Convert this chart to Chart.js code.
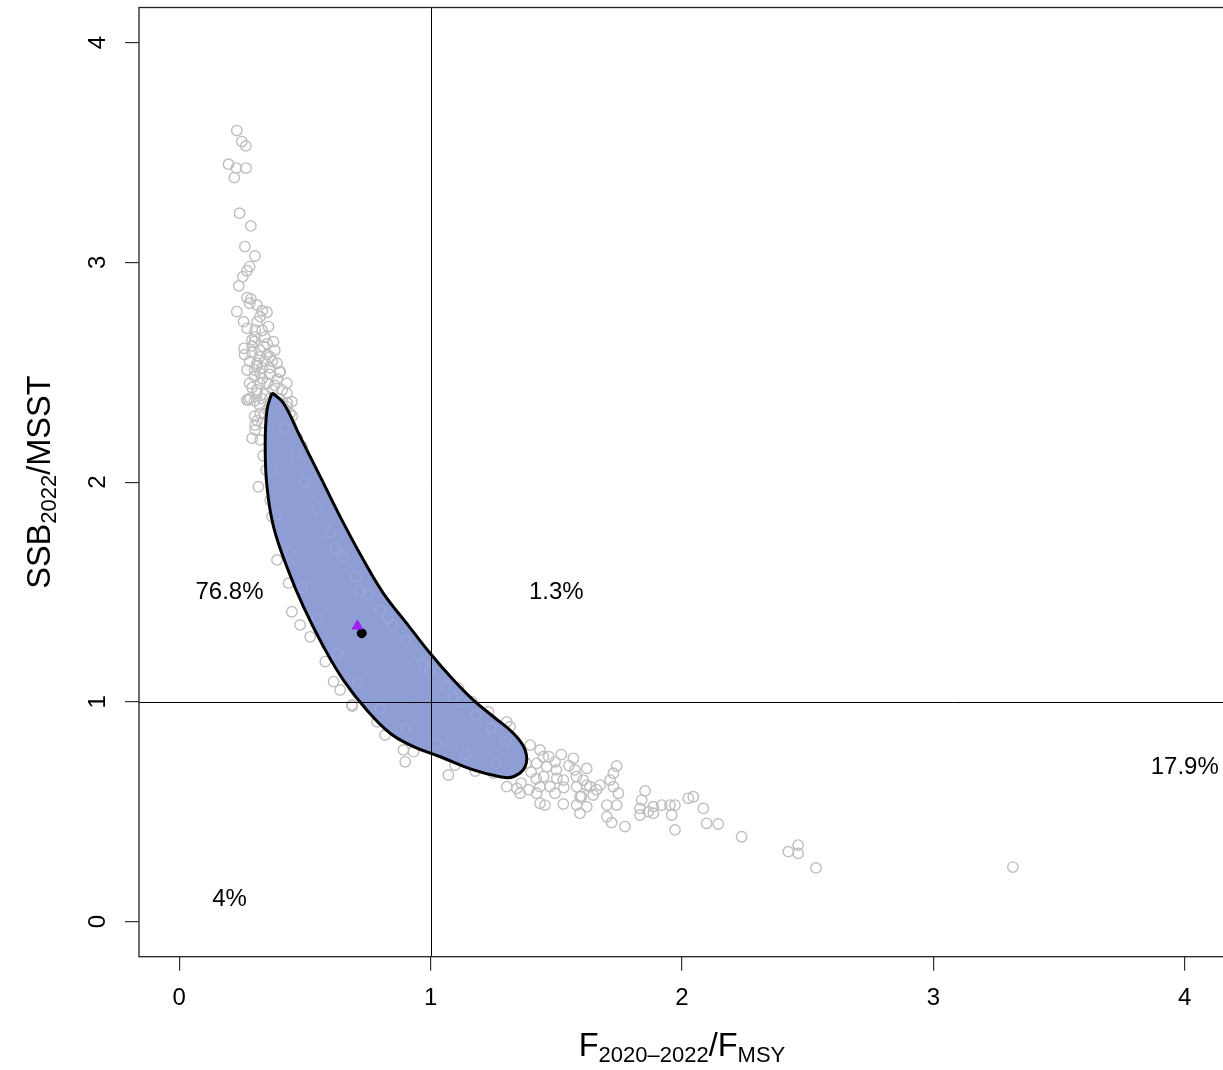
<!DOCTYPE html>
<html>
<head>
<meta charset="utf-8">
<script src="https://cdn.jsdelivr.net/npm/chart.js@4.4.0/dist/chart.umd.min.js"></script>
<style>
  html, body { margin: 0; padding: 0; background: #fff; overflow: hidden; }
  canvas { display: block; }
</style>
</head>
<body>
<canvas id="grafico" width="1232" height="1070"></canvas>
<script>
// AXES
const fTicks = [0, 1, 2, 3, 4];
const ssbTicks = [0, 1, 2, 3, 4];
const fRange = [-0.16, 4.16];
const ssbRange = [-0.16, 4.16];
const refF = 1;
const refSSB = 1;

// QUADRANT PERCENTAGES
const quadText = ["76.8%", "1.3%", "17.9%", "4%"];
const quadF = [0.2, 1.5, 4.0, 0.2];
const quadSSB = [1.5, 1.5, 0.7, 0.1];

// MCMC CLOUD (F/FMSY, SSB/MSST) - upper tail
const upperTail = [
  [0.229,3.600],[0.249,3.550],[0.265,3.530],[0.196,3.447],[0.227,3.429],[0.266,3.429],
  [0.219,3.386],[0.240,3.224],[0.285,3.166],[0.261,3.072],[0.301,3.029],[0.280,2.981],
  [0.269,2.962],[0.253,2.935],[0.237,2.893],[0.285,2.834],[0.280,2.814],[0.229,2.776],
  [0.309,2.806],[0.349,2.773],[0.256,2.730],[0.322,2.753],[0.302,2.693],[0.355,2.708],
  [0.289,2.647],[0.375,2.639],[0.258,2.609],[0.335,2.617],[0.362,2.571],[0.309,2.541],
  [0.389,2.541],[0.322,2.495],[0.402,2.503],[0.428,2.450],[0.276,2.374],[0.428,2.404],
  [0.448,2.366],[0.302,2.260],
  [0.27,2.70],[0.30,2.66],[0.33,2.69],[0.29,2.62],[0.32,2.60],[0.35,2.63],[0.28,2.55],
  [0.31,2.53],[0.34,2.55],[0.37,2.55],[0.30,2.48],[0.33,2.47],[0.36,2.49],[0.39,2.47],
  [0.28,2.45],[0.31,2.42],[0.34,2.40],[0.37,2.42],[0.41,2.42],[0.32,2.35],[0.35,2.33],
  [0.38,2.35],[0.42,2.33],[0.45,2.30],[0.30,2.30],[0.33,2.27],[0.36,2.25],[0.44,2.24],
  [0.47,2.20],[0.29,2.20],
  [0.26,2.58],[0.29,2.59],[0.32,2.57],[0.35,2.58],[0.38,2.60],[0.27,2.51],[0.30,2.51],
  [0.33,2.52],[0.36,2.52],[0.40,2.50],[0.29,2.43],[0.32,2.45],[0.35,2.45],[0.38,2.44],
  [0.30,2.37],[0.33,2.38],[0.36,2.38],[0.40,2.38],[0.43,2.36],[0.31,2.28],[0.34,2.31],
  [0.37,2.29],[0.40,2.26],[0.30,2.64],[0.34,2.66],[0.31,2.73],[0.33,2.78],[0.27,2.84]
];

// cloud along the edges of the contour
const edgePts = [
  [0.282,2.382],[0.309,2.404],[0.269,2.374],[0.322,2.313],[0.302,2.237],[0.322,2.192],
  [0.334,2.120],[0.346,2.055],[0.315,1.979],[0.362,1.918],[0.369,1.843],[0.414,1.714],
  [0.389,1.646],[0.435,1.540],[0.448,1.410],[0.481,1.350],[0.521,1.296],[0.581,1.183],
  [0.614,1.092],[0.640,1.054],[0.687,0.986],[0.688,0.981],[0.787,0.909],[0.819,0.849],
  [0.892,0.781],[0.899,0.727],[0.932,0.773],[0.958,0.804],[1.071,0.667],[1.097,0.712],
  [1.177,0.685],[1.249,0.676],[0.468,2.192],[0.488,2.163],[0.441,2.313],[0.428,2.343]
];

// lower tail, to the right of the contour
const lowerTail = [
  [1.111,1.062],[1.164,1.001],[1.230,0.955],[1.303,0.909],[1.316,0.887],[1.396,0.803],
  [1.435,0.781],[1.448,0.750],[1.422,0.720],[1.462,0.705],[1.495,0.727],[1.568,0.743],
  [1.574,0.690],[1.621,0.697],[1.740,0.708],[1.727,0.675],[1.502,0.652],[1.528,0.644],
  [1.475,0.614],[1.435,0.614],[1.303,0.614],[1.343,0.606],[1.356,0.584],[1.422,0.584],
  [1.495,0.584],[1.581,0.614],[1.607,0.644],[1.634,0.614],[1.674,0.621],[1.714,0.644],
  [1.727,0.614],[1.747,0.584],[1.647,0.576],[1.594,0.568],[1.581,0.530],[1.621,0.523],
  [1.435,0.538],[1.455,0.530],[1.528,0.535],[1.701,0.530],[1.740,0.530],[1.594,0.493],
  [1.701,0.477],[1.720,0.450],[1.773,0.432],[1.853,0.595],[1.840,0.553],[1.833,0.515],
  [1.833,0.485],[1.866,0.500],[1.886,0.523],[1.919,0.530],[1.952,0.530],[1.972,0.530],
  [1.959,0.485],[1.886,0.493],[2.025,0.561],[2.045,0.568],[2.085,0.515],[1.972,0.417],
  [2.098,0.447],[2.144,0.444],[2.237,0.386],[2.423,0.318],[2.462,0.348],[2.462,0.310],
  [2.533,0.244],[3.316,0.248],
  [1.38,0.72],[1.40,0.68],[1.45,0.66],[1.50,0.69],[1.52,0.76],[1.55,0.71],[1.47,0.75],
  [1.42,0.65],[1.36,0.63],[1.39,0.60],[1.53,0.61],[1.58,0.66],[1.62,0.62],[1.66,0.60],
  [1.60,0.57]
];

// lighter draws showing inside the contour
const innerPts = [
  [0.42,2.25],[0.46,2.12],[0.50,2.00],[0.55,1.88],[0.60,1.77],[0.65,1.66],[0.70,1.57],
  [0.75,1.49],[0.80,1.42],[0.85,1.35],[0.90,1.28],[0.95,1.21],[1.00,1.14],[1.06,1.07],
  [1.12,1.00],[1.18,0.94],[1.24,0.88],[1.30,0.82],[0.62,1.70],[0.72,1.50],[0.83,1.38],
  [0.97,1.17],[1.09,1.02],[0.37,2.05],[0.39,1.85],[0.44,1.68],[0.49,1.52],[0.55,1.38],
  [0.63,1.22],[0.71,1.09],[0.80,0.97],[0.90,0.88],[1.02,0.81],[1.14,0.76],[1.26,0.72]
];

// 95% CONTOUR (closed, starts at the top tip)
const contourF = [0.369,0.415,0.481,0.561,0.640,0.733,0.812,0.905,0.998,1.091,1.170,1.250,
  1.329,1.376,1.376,1.329,1.276,1.170,1.038,0.932,0.839,0.746,0.653,0.574,0.494,0.428,
  0.375,0.349,0.342,0.349,0.369];
const contourSSB = [2.407,2.359,2.207,2.025,1.843,1.645,1.494,1.357,1.221,1.099,1.008,0.932,
  0.857,0.781,0.705,0.659,0.659,0.690,0.750,0.796,0.857,0.963,1.099,1.251,1.433,1.615,
  1.797,1.979,2.161,2.328,2.407];

// CURRENT STATUS
const medianPt = [0.726, 1.312];
const basePt = [0.709, 1.345];

const toXY = arr => arr.map(p => ({ x: p[0], y: p[1] }));
const contour = contourF.map((f, i) => ({ x: f, y: contourSSB[i] }));

const FONT = "'Liberation Sans', Arial, sans-serif";

// text with subscripts, centred on (cx, cy) baseline
function drawSubText(ctx, parts, cx, cy) {
  let total = 0;
  parts.forEach(p => {
    ctx.font = (p.sub ? 22 : 32.5) + "px " + FONT;
    p.w = ctx.measureText(p.t).width;
    total += p.w;
  });
  let pos = cx - total / 2;
  ctx.textAlign = "left";
  ctx.textBaseline = "alphabetic";
  parts.forEach(p => {
    ctx.font = (p.sub ? 22 : 32.5) + "px " + FONT;
    ctx.fillText(p.t, pos, cy + (p.sub ? 6 : 0));
    pos += p.w;
  });
}

const overlay = {
  id: "overlay",
  afterDatasetsDraw(chart) {
    const { ctx, chartArea: a, scales: { x, y } } = chart;
    ctx.save();
    ctx.strokeStyle = "#000";
    ctx.lineWidth = 1;
    const px = Math.round(x.getPixelForValue(refF)) + 0.5;
    const py = Math.round(y.getPixelForValue(refSSB)) + 0.5;
    ctx.beginPath();
    ctx.moveTo(px, a.top); ctx.lineTo(px, a.bottom);
    ctx.moveTo(a.left, py); ctx.lineTo(a.right, py);
    ctx.stroke();

    // box
    ctx.strokeStyle = "#222";
    ctx.lineWidth = 1.3;
    ctx.strokeRect(a.left, a.top, a.right - a.left, a.bottom - a.top);

    ctx.fillStyle = "#000";
    ctx.font = "24px " + FONT;
    ctx.textAlign = "center";
    ctx.textBaseline = "middle";
    quadText.forEach((t, i) => {
      ctx.fillText(t, x.getPixelForValue(quadF[i]), y.getPixelForValue(quadSSB[i]));
    });
    ctx.restore();
  },
  afterDraw(chart) {
    const { ctx, chartArea: a } = chart;
    ctx.save();
    ctx.fillStyle = "#000";
    drawSubText(ctx, [{ t: "F" }, { t: "2020\u20132022", sub: true }, { t: "/F" }, { t: "MSY", sub: true }],
      (a.left + a.right) / 2, a.bottom + 99);
    ctx.translate(a.left - 89, (a.top + a.bottom) / 2);
    ctx.rotate(-Math.PI / 2);
    drawSubText(ctx, [{ t: "SSB" }, { t: "2022", sub: true }, { t: "/MSST" }], 0, 0);
    ctx.restore();
  }
};

const tickFont = { family: FONT, size: 24 };

new Chart(document.getElementById("grafico"), {
  type: "scatter",
  data: {
    datasets: [
      {
        label: "base",
        data: [{ x: basePt[0], y: basePt[1] }],
        pointStyle: "triangle",
        pointRadius: 6,
        backgroundColor: "#a020f0",
        borderColor: "#a020f0",
        borderWidth: 1,
        order: 0
      },
      {
        label: "median",
        data: [{ x: medianPt[0], y: medianPt[1] }],
        pointRadius: 4.5,
        backgroundColor: "#000",
        borderColor: "#000",
        order: 1
      },
      {
        type: "line",
        label: "contour outline",
        data: contour,
        borderColor: "#000",
        borderWidth: 3,
        tension: 0.4,
        pointRadius: 0,
        fill: false,
        order: 2
      },
      {
        label: "inner",
        data: toXY(innerPts),
        pointRadius: 5,
        borderWidth: 1,
        borderColor: "rgba(166,182,238,0.55)",
        backgroundColor: "rgba(0,0,0,0)",
        order: 3
      },
      {
        type: "line",
        label: "contour",
        data: contour,
        borderWidth: 0,
        borderColor: "rgba(0,0,0,0)",
        backgroundColor: "#8e9dd3",
        tension: 0.4,
        pointRadius: 0,
        fill: "shape",
        order: 4
      },
      {
        label: "cloud",
        data: toXY(upperTail.concat(edgePts, lowerTail)),
        pointRadius: 5.2,
        borderWidth: 1.4,
        borderColor: "#bebebe",
        backgroundColor: "rgba(0,0,0,0)",
        order: 5
      }
    ]
  },
  options: {
    responsive: false,
    animation: false,
    events: [],
    layout: { padding: { top: 7.5, right: 4, left: 0, bottom: 0 } },
    plugins: { legend: { display: false }, tooltip: { enabled: false } },
    scales: {
      x: {
        type: "linear",
        min: fRange[0],
        max: fRange[1],
        afterBuildTicks: s => { s.ticks = fTicks.map(v => ({ value: v })); },
        afterFit: s => { s.height = 113.3; s.paddingLeft = 0; s.paddingRight = 0; },
        grid: { drawOnChartArea: false, drawTicks: true, tickLength: 14, color: "#333", lineWidth: 1.2 },
        border: { display: false },
        ticks: { font: tickFont, color: "#000", padding: 13, maxRotation: 0, autoSkip: false }
      },
      y: {
        type: "linear",
        min: ssbRange[0],
        max: ssbRange[1],
        afterBuildTicks: s => { s.ticks = ssbTicks.map(v => ({ value: v })); },
        afterFit: s => { s.width = 139; s.paddingTop = 0; s.paddingBottom = 0; },
        grid: { drawOnChartArea: false, drawTicks: true, tickLength: 14, color: "#333", lineWidth: 1.2 },
        border: { display: false },
        ticks: { font: tickFont, color: "#000", padding: 20, minRotation: 90, maxRotation: 90,
                 crossAlign: "center", autoSkip: false }
      }
    }
  },
  plugins: [overlay]
});
</script>
</body>
</html>
